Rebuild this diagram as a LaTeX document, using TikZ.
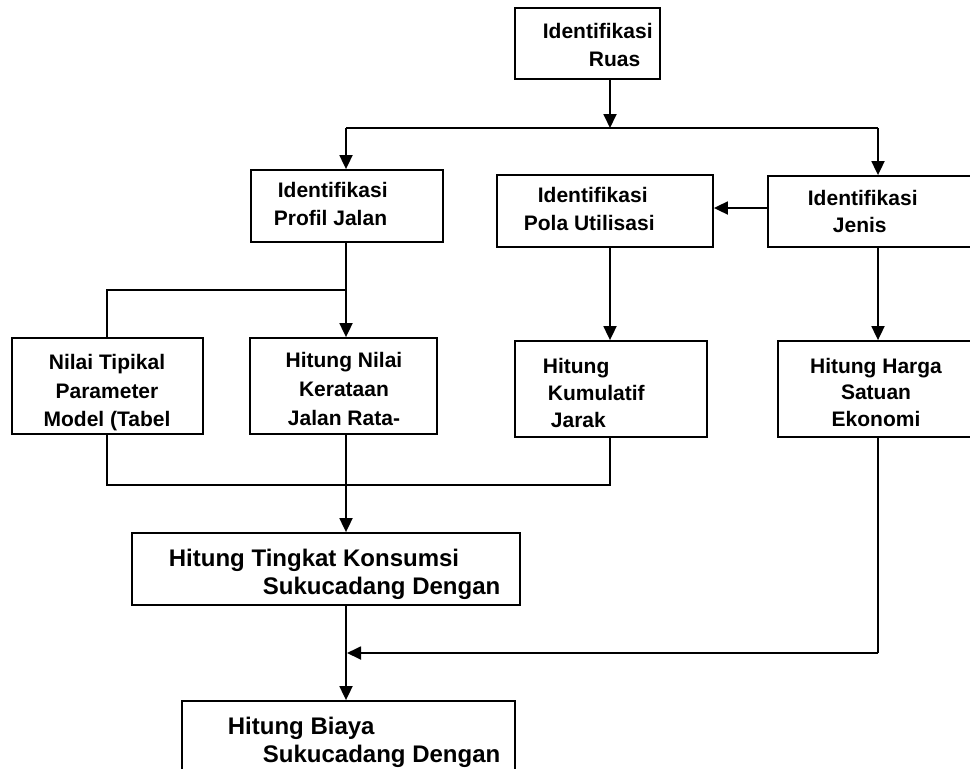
\documentclass[tikz,border=0pt]{standalone}
\usepackage{fontspec}
\setmainfont{Liberation Sans}
\usetikzlibrary{arrows.meta}
\begin{document}
\begin{tikzpicture}[x=1pt,y=-1pt,
  line width=1.8pt,
  box/.style={draw,line width=1.8pt,inner sep=0pt},
  arr/.style={-{Triangle[length=14pt,width=13pt]}},
  txt/.style={anchor=base west,inner sep=0pt,font=\fontsize{21}{28}\selectfont\bfseries},
  txtc/.style={anchor=base,inner sep=0pt,font=\fontsize{21}{28}\selectfont\bfseries},
  txtl/.style={anchor=base west,inner sep=0pt,font=\fontsize{24}{28}\selectfont\bfseries}]
\useasboundingbox (0,0) rectangle (970,769);
\clip (0,0) rectangle (970,769);
% boxes
\node[box,minimum width=145pt,minimum height=71pt] (b1) at (587.5,43.5) {};
\node[box,minimum width=192pt,minimum height=72pt] (b2) at (347,206) {};
\node[box,minimum width=216pt,minimum height=72pt] (b3) at (605,211) {};
\node[box,minimum width=222pt,minimum height=71pt] (b4) at (879,211.5) {};
\node[box,minimum width=191pt,minimum height=96pt] (b5) at (107.5,386) {};
\node[box,minimum width=187pt,minimum height=96pt] (b6) at (343.5,386) {};
\node[box,minimum width=192pt,minimum height=96pt] (b7) at (611,389) {};
\node[box,minimum width=212pt,minimum height=96pt] (b8) at (884,389) {};
\node[box,minimum width=388pt,minimum height=72pt] (b9) at (326,569) {};
\node[box,minimum width=333pt,minimum height=89pt] (b10) at (348.5,745.5) {};
% texts
\node[txt] (t1a) at (542,38) {Identifikasi};
\node[txt] (t1b) at (588,66) {Ruas};
\node[txt] (t2a) at (277,197) {Identifikasi};
\node[txt] (t2b) at (273,225) {Profil Jalan};
\node[txt] (t3a) at (537,202) {Identifikasi};
\node[txt] (t3b) at (523,230) {Pola Utilisasi};
\node[txt] (t4a) at (807,205) {Identifikasi};
\node[txt] (t4b) at (832,232) {Jenis};
\node[txtc] (t5a) at (107,369) {Nilai Tipikal};
\node[txtc] (t5b) at (107,398) {Parameter};
\node[txtc] (t5c) at (107,426) {Model (Tabel};
\node[txtc] (t6a) at (344,367) {Hitung Nilai};
\node[txtc] (t6b) at (344,396) {Kerataan};
\node[txtc] (t6c) at (344,425) {Jalan Rata-};
\node[txt] (t7a) at (542,373) {Hitung};
\node[txt] (t7b) at (547,400) {Kumulatif};
\node[txt] (t7c) at (550,427) {Jarak};
\node[txtc] (t8a) at (876,373) {Hitung Harga};
\node[txtc] (t8b) at (876,399) {Satuan};
\node[txtc] (t8c) at (876,426) {Ekonomi};
\node[txtl] (t9a) at (168,566) {Hitung Tingkat Konsumsi};
\node[txtl] (t9b) at (262,594) {Sukucadang Dengan};
\node[txtl] (t10a) at (227,734) {Hitung Biaya};
\node[txtl] (t10b) at (262,762) {Sukucadang Dengan};
% junctions
\coordinate (j1) at (610,128);
\coordinate (jl) at (346,128);
\coordinate (jr) at (878,128);
\coordinate (j2) at (346,290);
\coordinate (j2l) at (107,290);
\coordinate (j3l) at (107,485);
\coordinate (j3r) at (610,485);
\coordinate (j4) at (878,653);
\coordinate (j4l) at (347,653);
% connectors
\draw[arr] (b1.south -| j1) -- (j1);
\draw (jl) -- (jr);
\draw[arr] (jl) -- (jl |- b2.north);
\draw[arr] (jr) -- (jr |- b4.north);
\draw[arr] (b4.west |- 0,208) -- (b3.east |- 0,208);
\draw[arr] (jl |- b2.south) -- (jl |- b6.north);
\draw (j2) -- (j2l) -- (j2l |- b5.north);
\draw[arr] (j1 |- b3.south) -- (j1 |- b7.north);
\draw[arr] (jr |- b4.south) -- (jr |- b8.north);
\draw (j3l |- b5.south) -- (j3l) -- (j3r) -- (j3r |- b7.south);
\draw[arr] (jl |- b6.south) -- (jl |- b9.north);
\draw (jr |- b8.south) -- (j4);
\draw[arr] (j4) -- (j4l);
\draw[arr] (jl |- b9.south) -- (jl |- b10.north);
\end{tikzpicture}
\end{document}
